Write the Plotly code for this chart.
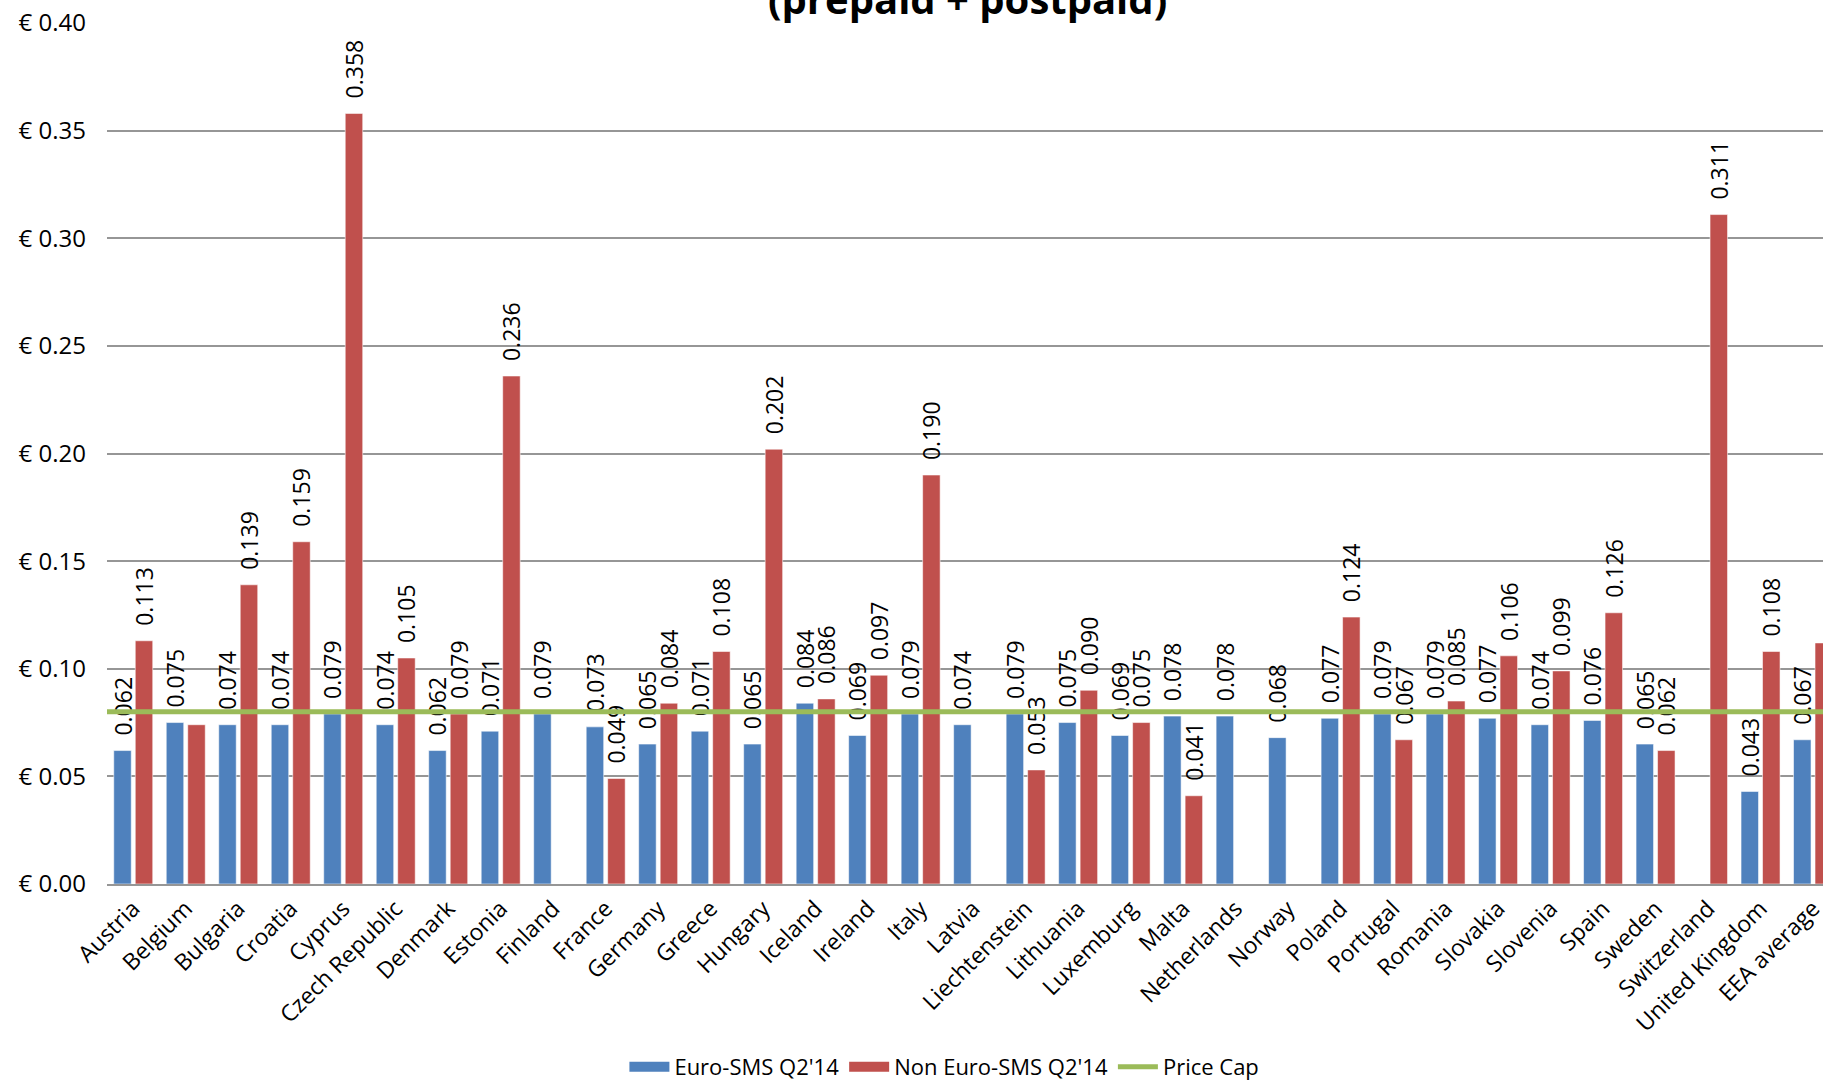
import plotly.graph_objects as go

countries = ["Austria", "Belgium", "Bulgaria", "Croatia", "Cyprus", "Czech Republic", "Denmark",
             "Estonia", "Finland", "France", "Germany", "Greece", "Hungary", "Iceland", "Ireland",
             "Italy", "Latvia", "Liechtenstein", "Lithuania", "Luxemburg", "Malta", "Netherlands",
             "Norway", "Poland", "Portugal", "Romania", "Slovakia", "Slovenia", "Spain", "Sweden",
             "Switzerland", "United Kingdom", "EEA average"]

euro_sms = [0.062, 0.075, 0.074, 0.074, 0.079, 0.074, 0.062, 0.071, 0.079, 0.073, 0.065, 0.071,
            0.065, 0.084, 0.069, 0.079, 0.074, 0.079, 0.075, 0.069, 0.078, 0.078, 0.068, 0.077,
            0.079, 0.079, 0.077, 0.074, 0.076, 0.065, None, 0.043, 0.067]

non_euro_sms = [0.113, 0.074, 0.139, 0.159, 0.358, 0.105, 0.079, 0.236, None, 0.049, 0.084, 0.108,
                0.202, 0.086, 0.097, 0.190, None, 0.053, 0.090, 0.075, 0.041, None, None, 0.124,
                0.067, 0.085, 0.106, 0.099, 0.126, 0.062, 0.311, 0.108, 0.112]

price_cap = 0.08
hidden_non_euro_labels = ["Belgium"]

y_ticks = [0.00, 0.05, 0.10, 0.15, 0.20, 0.25, 0.30, 0.35, 0.40]
y_tick_labels = [f"€ {v:.2f}" for v in y_ticks]

series_names = ["Euro-SMS Q2'14", "Non Euro-SMS Q2'14", "Price Cap"]
title_text = "(prepaid + postpaid)"

BLUE = "#4F81BD"
RED = "#C0504D"
GREEN = "#9BBB59"
FONT = "Open Sans"
LABEL_PAD = "\u00a0\u00a0"


def labels(values, hidden=()):
    out = []
    for c, v in zip(countries, values):
        out.append("" if (v is None or c in hidden) else f"{LABEL_PAD}{v:.3f}")
    return out


fig = go.Figure()

fig.add_trace(go.Bar(
    x=countries, y=euro_sms, name=series_names[0], showlegend=False,
    marker=dict(color=BLUE, line=dict(color="rgba(255,255,255,0.55)", width=1)),
    text=labels(euro_sms), textposition="outside", textangle=-90,
    textfont=dict(family=FONT, size=23, color="black"),
    constraintext="none", cliponaxis=False,
))
fig.add_trace(go.Bar(
    x=countries, y=non_euro_sms, name=series_names[1], showlegend=False,
    marker=dict(color=RED, line=dict(color="rgba(255,255,255,0.55)", width=1)),
    text=labels(non_euro_sms, hidden_non_euro_labels), textposition="outside", textangle=-90,
    textfont=dict(family=FONT, size=23, color="black"),
    constraintext="none", cliponaxis=False,
))

# legend entries (wide swatches like the original)
fig.add_trace(go.Scatter(x=[None], y=[None], mode="lines", name=series_names[0],
                         line=dict(color=BLUE, width=15)))
fig.add_trace(go.Scatter(x=[None], y=[None], mode="lines", name=series_names[1],
                         line=dict(color=RED, width=15)))
fig.add_trace(go.Scatter(x=[None], y=[None], mode="lines", name=series_names[2],
                         line=dict(color=GREEN, width=5)))

fig.add_hline(y=price_cap, line=dict(color=GREEN, width=5), layer="above")

fig.add_annotation(text=f"<b>{title_text}</b>", xref="paper", yref="paper",
                   x=0.5015, y=1.0, yanchor="bottom", showarrow=False, yshift=-5,
                   font=dict(family=FONT, size=40, color="black"))

fig.update_layout(
    width=1823, height=1081,
    margin=dict(l=107, r=0, t=23, b=197),
    paper_bgcolor="white", plot_bgcolor="white",
    barmode="group", bargap=0.181, bargroupgap=0.186,
    font=dict(family=FONT, size=22, color="black"),
    legend=dict(orientation="h", x=0.488, xanchor="center",
                yref="container", y=0.013, yanchor="middle",
                font=dict(family=FONT, size=22, color="black"), itemwidth=40,
                traceorder="normal"),
    xaxis=dict(range=[-0.5, 32.19], tickangle=-45, showgrid=False, automargin=False,
               showline=True, linecolor="#969696", linewidth=2,
               tickfont=dict(family=FONT, size=23, color="black")),
    yaxis=dict(range=[0, 0.40], tickvals=y_ticks, ticktext=y_tick_labels,
               showgrid=True, gridcolor="#969696", gridwidth=1.5, zeroline=False,
               showline=False, ticklabelstandoff=20, automargin=False,
               tickfont=dict(family=FONT, size=24, color="black")),
)

fig.write_html("out.html", config={"displayModeBar": False},
               post_script="document.body.style.margin='0';")
